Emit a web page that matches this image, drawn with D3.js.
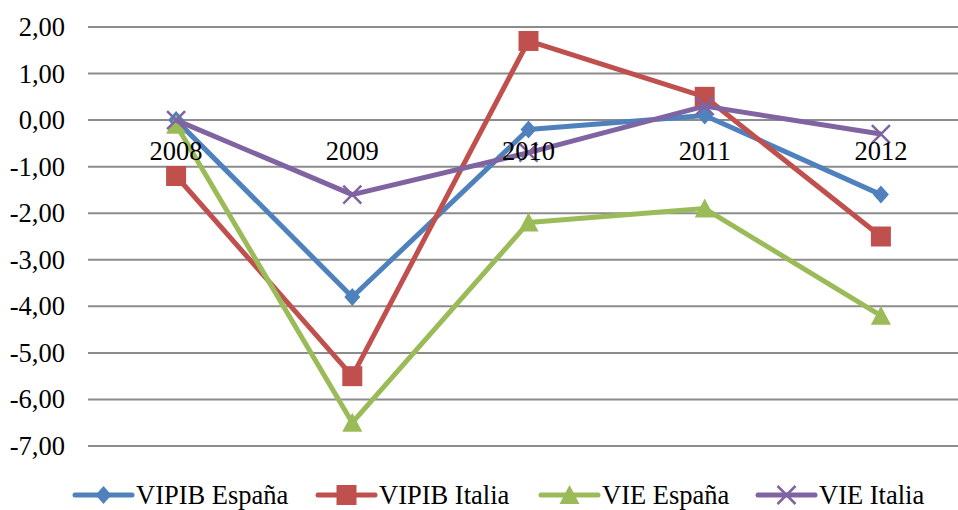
<!DOCTYPE html>
<html>
<head>
<meta charset="utf-8">
<script src="https://cdn.jsdelivr.net/npm/d3@7"></script>
<style>
  body { margin: 0; background: #fff; }
  svg { display: block; }
</style>
</head>
<body>
<svg id="chart" width="958" height="510"></svg>
<script>
// chart values
var years = ["2008", "2009", "2010", "2011", "2012"];
var yTicks = [2, 1, 0, -1, -2, -3, -4, -5, -6, -7];
var vipibEspana = [0.0, -3.8, -0.2, 0.1, -1.6];
var vipibItalia = [-1.2, -5.5, 1.7, 0.5, -2.5];
var vieEspana = [-0.1, -6.5, -2.2, -1.9, -4.2];
var vieItalia = [0.0, -1.6, -0.7, 0.3, -0.3];

var seriesNames = ["VIPIB España", "VIPIB Italia", "VIE España", "VIE Italia"];
var seriesColors = ["#4F81BD", "#C0504D", "#9BBB59", "#8064A2"];
var seriesMarkers = ["diamond", "square", "triangle", "cross"];
var seriesValues = [vipibEspana, vipibItalia, vieEspana, vieItalia];

var svg = d3.select("#chart"),
    width = +svg.attr("width"),
    height = +svg.attr("height"),
    fontSize = 26.5,
    serif = "'Liberation Serif', 'Times New Roman', 'DejaVu Serif', serif";

var x = d3.scaleBand().domain(years).range([88, 969]);
var y = d3.scaleLinear().domain([-7, 2]).range([446, 27]);

// gridlines
svg.append("g")
  .selectAll("line")
  .data(yTicks)
  .join("line")
    .attr("x1", 88).attr("x2", width)
    .attr("y1", function (d) { return y(d); })
    .attr("y2", function (d) { return y(d); })
    .attr("stroke", "#8c8c8c")
    .attr("stroke-width", 2);

// y axis labels
var fmt = function (d) { return d3.format(".2f")(d).replace(".", ",").replace("−", "-"); };
svg.append("g")
  .selectAll("text")
  .data(yTicks)
  .join("text")
    .attr("x", 65)
    .attr("y", function (d) { return y(d); })
    .attr("dy", "0.34em")
    .attr("text-anchor", "end")
    .attr("font-family", serif)
    .attr("font-size", fontSize)
    .text(fmt);

function markerPath(type) {
  if (type === "diamond") return "M0,-9L8,0L0,9L-8,0Z";
  if (type === "square") return "M-10,-10H10V10H-10Z";
  if (type === "triangle") return "M0,-10L10,9H-10Z";
  return "M-9,-9L9,9M9,-9L-9,9";
}

function drawMarker(g, type, color) {
  var p = g.append("path").attr("d", markerPath(type));
  if (type === "cross") {
    p.attr("fill", "none").attr("stroke", color).attr("stroke-width", 2.5);
  } else {
    p.attr("fill", color);
  }
}

var line = d3.line()
  .x(function (d, i) { return x(years[i]) + x.bandwidth() / 2; })
  .y(function (d) { return y(d); });

// series
seriesValues.forEach(function (vals, s) {
  var g = svg.append("g");
  g.append("path")
    .attr("d", line(vals))
    .attr("fill", "none")
    .attr("stroke", seriesColors[s])
    .attr("stroke-width", 5)
    .attr("stroke-linejoin", "round");
  vals.forEach(function (v, i) {
    var m = g.append("g")
      .attr("transform", "translate(" + (x(years[i]) + x.bandwidth() / 2) + "," + y(v) + ")");
    drawMarker(m, seriesMarkers[s], seriesColors[s]);
  });
});

// category labels sit just below the zero line
svg.append("g")
  .selectAll("text")
  .data(years)
  .join("text")
    .attr("x", function (d) { return x(d) + x.bandwidth() / 2; })
    .attr("y", 160)
    .attr("text-anchor", "middle")
    .attr("font-family", serif)
    .attr("font-size", fontSize)
    .text(function (d) { return d; });

// legend
var legendX = [75, 318, 541, 758];
var legend = svg.append("g");
seriesNames.forEach(function (name, s) {
  var lg = legend.append("g").attr("transform", "translate(" + legendX[s] + ",495)");
  lg.append("line")
    .attr("x1", 0).attr("x2", 57)
    .attr("stroke", seriesColors[s])
    .attr("stroke-width", 5)
    .attr("stroke-linecap", "round");
  var m = lg.append("g").attr("transform", "translate(28.5,0)");
  drawMarker(m, seriesMarkers[s], seriesColors[s]);
  lg.append("text")
    .attr("x", 61)
    .attr("y", 9)
    .attr("font-family", serif)
    .attr("font-size", fontSize)
    .text(name);
});
</script>
</body>
</html>
